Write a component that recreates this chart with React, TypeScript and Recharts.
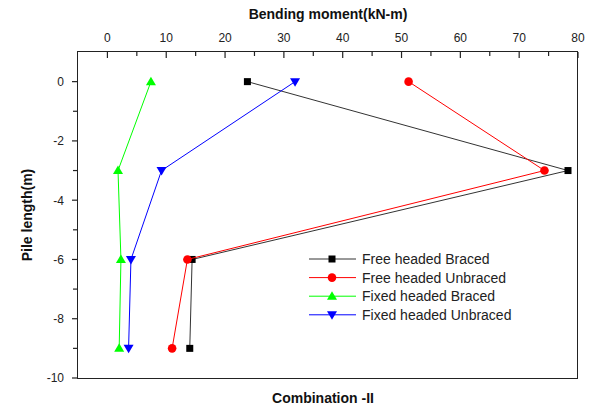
import React from "react";
import { ScatterChart, Scatter, XAxis, YAxis, Label } from "recharts";

const DEPTH = [0, -3, -6, -9];
const FREE_BRACED = [23.8, 78.3, 14.4, 14.0];
const FREE_UNBRACED = [51.2, 74.3, 13.6, 11.0];
const FIXED_BRACED = [7.4, 1.8, 2.3, 2.0];
const FIXED_UNBRACED = [31.9, 9.2, 4.0, 3.6];

const X_TICKS = [0, 5, 10, 15, 20, 25, 30, 35, 40, 45, 50, 55, 60, 65, 70, 75, 80];
const Y_TICKS = [-10, -9, -8, -7, -6, -5, -4, -3, -2, -1, 0];

const FONT = "'Liberation Sans', Arial, sans-serif";
const INK = "#222222";

type Mark = "square" | "circle" | "up" | "down";

const SERIES: { name: string; values: number[]; color: string; line: string; mark: Mark }[] = [
  { name: "Free headed Braced", values: FREE_BRACED, color: "#000000", line: "#333333", mark: "square" },
  { name: "Free headed Unbraced", values: FREE_UNBRACED, color: "#ff0000", line: "#ff0000", mark: "circle" },
  { name: "Fixed headed Braced", values: FIXED_BRACED, color: "#00ff00", line: "#00ff00", mark: "up" },
  { name: "Fixed headed Unbraced", values: FIXED_UNBRACED, color: "#0000ff", line: "#0000ff", mark: "down" },
];

function marker(mark: Mark, cx: number, cy: number, color: string) {
  if (mark === "square") return <rect x={cx - 3.5} y={cy - 3.5} width={7} height={7} fill={color} />;
  if (mark === "circle") return <circle cx={cx} cy={cy} r={4.3} fill={color} />;
  if (mark === "up")
    return <polygon points={`${cx},${cy - 5} ${cx + 5},${cy + 3.5} ${cx - 5},${cy + 3.5}`} fill={color} />;
  return <polygon points={`${cx - 5},${cy - 3.5} ${cx + 5},${cy - 3.5} ${cx},${cy + 5}`} fill={color} />;
}

const TopTick = (props: any) => {
  const { x, y, payload } = props;
  const major = payload.value % 10 === 0;
  return (
    <g>
      <line x1={x} y1={y} x2={x} y2={y + (major ? 6 : 4)} stroke={INK} strokeWidth={1.2} />
      {major && (
        <text x={x} y={y - 10} textAnchor="middle" fontSize={12} fill={INK} fontFamily={FONT}>
          {payload.value}
        </text>
      )}
    </g>
  );
};

const LeftTick = (props: any) => {
  const { x, y, payload } = props;
  const major = payload.value % 2 === 0;
  return (
    <g>
      <line x1={x - (major ? 6 : 5)} y1={y} x2={x} y2={y} stroke={INK} strokeWidth={1.2} />
      {major && (
        <text x={x - 14} y={y} dy="0.36em" textAnchor="end" fontSize={12} fill={INK} fontFamily={FONT}>
          {payload.value}
        </text>
      )}
    </g>
  );
};

const LegendBox = () => (
  <svg width={280} height={80} style={{ display: "block" }}>
    {SERIES.map((s, i) => {
      const y = 10 + i * 18.6;
      return (
        <g key={s.name}>
          <line x1={4} y1={y} x2={51} y2={y} stroke={s.line} strokeWidth={1} />
          {marker(s.mark, 27, y, s.color)}
          <text x={57} y={y} dy="0.36em" fontSize={14} fill={INK} fontFamily={FONT}>
            {s.name}
          </text>
        </g>
      );
    })}
  </svg>
);

export default function App() {
  return (
    <div style={{ position: "absolute", left: 0, top: 0, width: 593, height: 410, background: "#fff" }}>
      <ScatterChart width={593} height={410} margin={{ top: 0, right: 15, bottom: 0, left: 0 }}>
        <XAxis
          xAxisId="top"
          orientation="top"
          type="number"
          dataKey="x"
          domain={[-5, 80]}
          ticks={X_TICKS}
          interval={0}
          height={52}
          tickSize={0}
          tickMargin={0}
          axisLine={false}
          tickLine={false}
          tick={<TopTick />}
        >
          <Label
            content={(p: any) => (
              <text
                x={p.viewBox.x + p.viewBox.width / 2}
                y={19}
                textAnchor="middle"
                fontSize={14}
                fontWeight="bold"
                fill="#111"
                fontFamily={FONT}
              >
                Bending moment(kN-m)
              </text>
            )}
          />
        </XAxis>
        <XAxis
          xAxisId="bottom"
          orientation="bottom"
          type="number"
          domain={[0, 1]}
          height={32}
          axisLine={false}
          tickLine={false}
          tick={false}
        >
          <Label
            content={(p: any) => (
              <text
                x={p.viewBox.x + p.viewBox.width / 2 - 5}
                y={p.viewBox.y + 25}
                textAnchor="middle"
                fontSize={14}
                fontWeight="bold"
                fill="#111"
                fontFamily={FONT}
              >
                Combination -II
              </text>
            )}
          />
        </XAxis>
        <YAxis
          type="number"
          dataKey="y"
          domain={[-10, 1]}
          ticks={Y_TICKS}
          interval={0}
          width={78}
          tickSize={0}
          tickMargin={0}
          axisLine={false}
          tickLine={false}
          tick={<LeftTick />}
        >
          <Label
            content={(p: any) => {
              const cx = p.viewBox.x + 27;
              const cy = p.viewBox.y + p.viewBox.height / 2;
              return (
                <text
                  x={cx}
                  y={cy}
                  transform={`rotate(-90, ${cx}, ${cy})`}
                  textAnchor="middle"
                  dominantBaseline="central"
                  fontSize={14}
                  fontWeight="bold"
                  fill="#111"
                  fontFamily={FONT}
                >
                  Pile length(m)
                </text>
              );
            }}
          />
        </YAxis>
        {SERIES.map((s) => (
          <Scatter
            key={s.name}
            xAxisId="top"
            name={s.name}
            data={DEPTH.map((d, i) => ({ x: s.values[i], y: d }))}
            line={{ stroke: s.line, strokeWidth: 1 }}
            lineType="joint"
            shape={(p: any) => marker(s.mark, p.cx, p.cy, s.color)}
            isAnimationActive={false}
          />
        ))}
      </ScatterChart>
      {/* plot frame */}
      <div
        style={{
          position: "absolute",
          left: 77,
          top: 51,
          width: 501,
          height: 328,
          boxSizing: "border-box",
          border: `1.5px solid ${INK}`,
          pointerEvents: "none",
        }}
      />
      <div style={{ position: "absolute", left: 305, top: 249 }}>
        <LegendBox />
      </div>
    </div>
  );
}
